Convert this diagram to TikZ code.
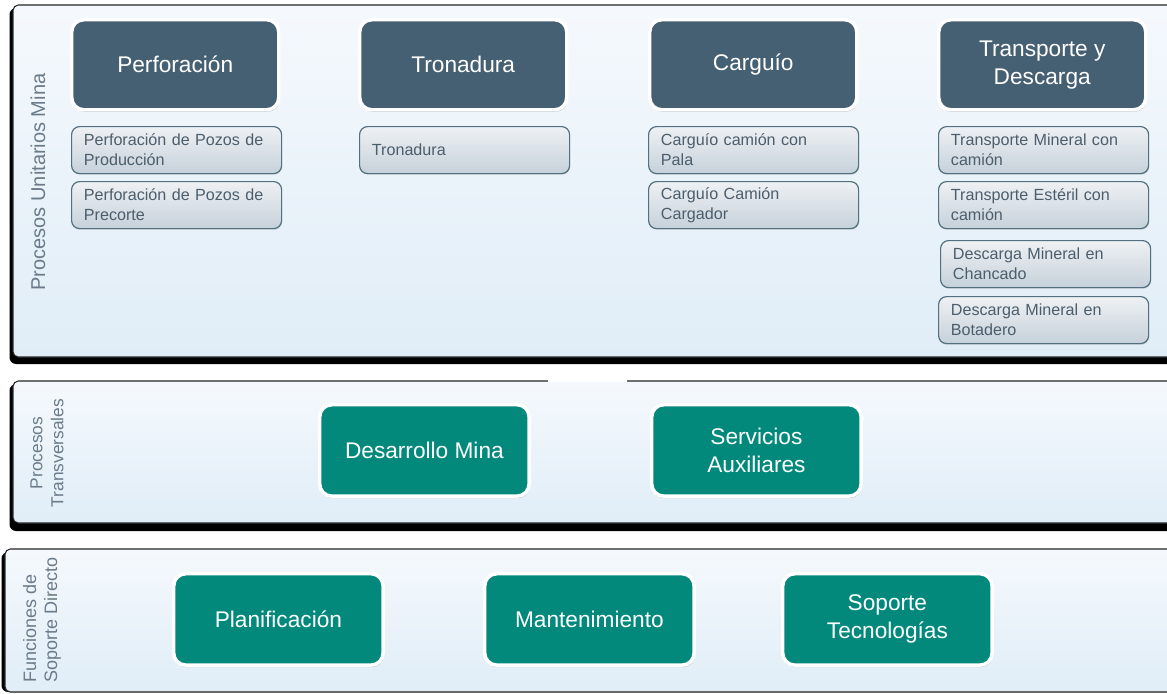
\documentclass[tikz,border=0pt]{standalone}
\usepackage{fontspec}
\setmainfont{Liberation Sans}
\usetikzlibrary{shadows}

\definecolor{slatebox}{HTML}{466073}
\definecolor{tealbox}{HTML}{02897C}
\definecolor{subtext}{HTML}{4C5D6C}
\definecolor{labeltext}{HTML}{6B7B89}
\definecolor{paneltop}{HTML}{F5F9FD}
\definecolor{panelbot}{HTML}{E0EDF7}
\definecolor{subtop}{HTML}{EEF1F4}
\definecolor{subbot}{HTML}{C6D1DA}
\definecolor{subborder}{HTML}{52707F}

\tikzset{
  panelshade/.style={fill=black, rounded corners=5pt},
  panel/.style={top color=paneltop, bottom color=panelbot, draw=black!85,
    line width=0.8pt, rounded corners=4pt},
  mainbox/.style={anchor=north west, rounded corners=9pt, draw=white,
    line width=2.6pt, text=white, align=center,
    font=\fontsize{17}{21}\selectfont,
    drop shadow={shadow xshift=0.6pt, shadow yshift=-1.6pt, opacity=0.35}},
  unitbox/.style={mainbox, fill=slatebox, minimum width=155.25pt, minimum height=67.5pt},
  teambox/.style={mainbox, fill=tealbox, minimum width=157pt, minimum height=68.5pt},
  subbox/.style={anchor=north west, rounded corners=6pt, draw=subborder,
    line width=0.9pt, top color=subtop, bottom color=subbot,
    text width=139pt, inner xsep=9.25pt, minimum height=35.25pt,
    align=left, text=subtext, font=\fontsize{12.1}{15}\selectfont,
    drop shadow={shadow xshift=0.4pt, shadow yshift=-1pt, opacity=0.2}},
  sidelabel/.style={rotate=90, text=labeltext, inner sep=0pt}
}

\begin{document}
\begin{tikzpicture}[x=0.75pt, y=-0.75pt]
\useasboundingbox (0,0) rectangle (1167,693);
\fill[white] (0,0) rectangle (1167,693);

% three bands
\fill[panelshade] (9.5,8) rectangle (1185,364);
\path[panel] (13,5) rectangle (1185,357);
\fill[panelshade] (9.5,384) rectangle (1185,531);
\path[panel] (13,381) rectangle (1185,523);
\fill[white] (548,368) rectangle (627,382.2);
\fill[panelshade] (1.5,552) rectangle (1185,692);
\path[panel] (5,549) rectangle (1185,692);

% band titles
\node[sidelabel, font=\fontsize{15}{18}\selectfont] (lab1) at (38,182) {Procesos Unitarios Mina};
\node[sidelabel, align=center, font=\fontsize{13}{15.75}\selectfont] (lab2) at (47,453) {Procesos\\Transversales};
\node[sidelabel, align=left, font=\fontsize{13.5}{15.75}\selectfont] (lab3) at (42,620) {Funciones de\\Soporte Directo};

% unit processes
\node[unitbox] (perf) at (70,18) {Perforación};
\node[unitbox] (tron) at (358,18) {Tronadura};
\node[unitbox] (carg) at (648,18) {Carguío};
\node[unitbox] (trans) at (937,18) {Transporte y\\Descarga};

\node[subbox] (perf1) at (71,126) {Perforación de Pozos de\\Producción};
\node[subbox] (perf2) at (71,181) {Perforación de Pozos de\\Precorte};
\node[subbox] (tron1) at (359,126) {Tronadura};
\node[subbox] (carg1) at (648,126) {Carguío camión con\\Pala};
\node[subbox] (carg2) at (648,181) {Carguío Camión\\Cargador};
\node[subbox] (trans1) at (938,126) {Transporte Mineral con\\camión};
\node[subbox] (trans2) at (938,181) {Transporte Estéril con\\camión};
\node[subbox] (trans3) at (940,240) {Descarga Mineral en\\Chancado};
\node[subbox] (trans4) at (938,296) {Descarga Mineral en\\Botadero};

% transversal processes
\node[teambox] (des) at (318,403) {Desarrollo Mina};
\node[teambox] (serv) at (650,403) {Servicios\\Auxiliares};

% direct support functions
\node[teambox] (plan) at (172,572) {Planificación};
\node[teambox] (mant) at (483,572) {Mantenimiento};
\node[teambox] (sop) at (781,572) {Soporte\\Tecnologías};
\end{tikzpicture}
\end{document}
